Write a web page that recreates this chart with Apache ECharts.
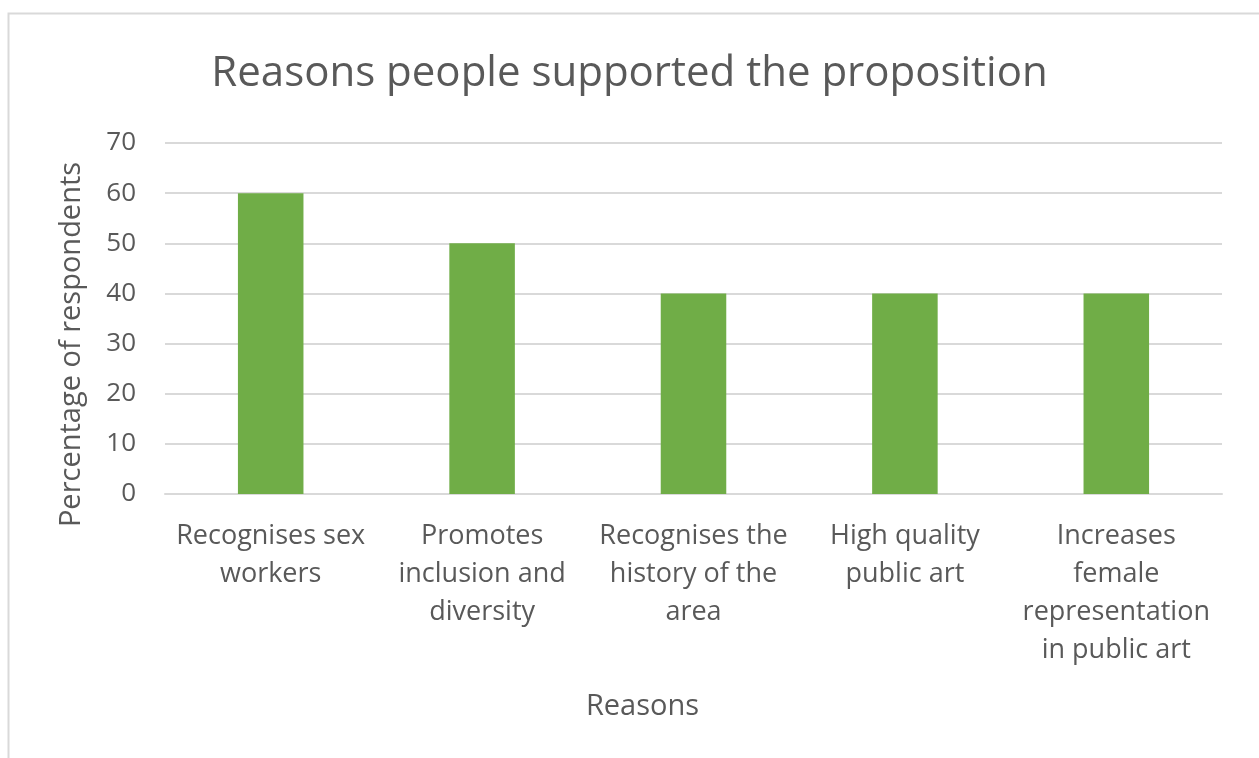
<!DOCTYPE html>
<html>
<head>
<meta charset="utf-8">
<script src="https://cdn.jsdelivr.net/npm/echarts@6/dist/echarts.min.js"></script>
<style>
  html, body { margin: 0; padding: 0; background: #fff; }
  #chart { width: 1259px; height: 758px; }
</style>
</head>
<body>
<div id="chart"></div>
<script>
// data
var categories = [
  'Recognises sex\nworkers',
  'Promotes\ninclusion and\ndiversity',
  'Recognises the\nhistory of the\narea',
  'High quality\npublic art',
  'Increases\nfemale\nrepresentation\nin public art'
];
var values = [60, 50, 40, 40, 40];

var textColor = '#595959';
var font = '"Open Sans", "Noto Sans", sans-serif';

var myChart = echarts.init(document.getElementById('chart'));

var option = {
  backgroundColor: '#ffffff',
  animation: false,
  textStyle: { fontFamily: font },
  title: {
    text: 'Reasons people supported the proposition',
    left: 'center',
    top: 48,
    padding: [5, 5, 5, 17],
    textStyle: { fontFamily: font, fontSize: 42, fontWeight: 'normal', color: textColor }
  },
  graphic: [{
    type: 'rect',
    shape: { x: 8.5, y: 13.5, width: 1260, height: 760 },
    style: { fill: 'none', stroke: '#d9d9d9', lineWidth: 2 },
    silent: true
  }],
  grid: { left: 165, right: 37, top: 143, bottom: 264, containLabel: false },
  xAxis: {
    type: 'category',
    data: categories,
    name: 'Reasons',
    nameLocation: 'middle',
    nameGap: 198,
    nameTextStyle: { fontFamily: font, fontSize: 29, color: textColor, padding: [0, 102, 0, 0] },
    axisLine: { lineStyle: { color: '#d9d9d9', width: 2 } },
    axisTick: { show: false },
    axisLabel: {
      interval: 0,
      margin: 23,
      fontFamily: font,
      fontSize: 27,
      lineHeight: 38,
      color: textColor
    }
  },
  yAxis: {
    type: 'value',
    min: 0,
    max: 70,
    interval: 10,
    name: 'Percentage of respondents',
    nameLocation: 'middle',
    nameGap: 79,
    nameTextStyle: { fontFamily: font, fontSize: 29, color: textColor, padding: [0, 52, 0, 0] },
    axisLine: { show: false },
    axisTick: { show: false },
    axisLabel: { margin: 29, fontFamily: font, fontSize: 26, color: textColor },
    splitLine: { lineStyle: { color: '#d9d9d9', width: 2 } }
  },
  series: [{
    type: 'bar',
    data: values,
    barWidth: '31%',
    itemStyle: { color: '#70ad47' }
  }]
};

myChart.setOption(option);
</script>
</body>
</html>
